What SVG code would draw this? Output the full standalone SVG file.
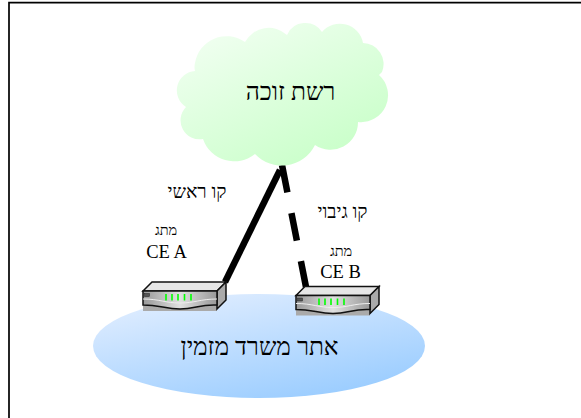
<svg xmlns="http://www.w3.org/2000/svg" width="581" height="418" viewBox="0 0 581 418">
<style>
text{font-family:"Liberation Serif","Noto Sans",serif;fill:#000;text-anchor:middle}
.t24{font-size:24.500px}.t19{font-size:19px}.t18{font-size:18.500px}.t14{font-size:14.500px}
.link{stroke:#000;stroke-width:6.500;fill:none}
</style>
<defs>
<linearGradient id="cg" x1="0.15" y1="0" x2="0.85" y2="1"><stop offset="0" stop-color="#f2fff2"/><stop offset="1" stop-color="#c6ffc6"/></linearGradient>
<linearGradient id="eg" x1="0.15" y1="0" x2="0.75" y2="1"><stop offset="0" stop-color="#e2eeff"/><stop offset="1" stop-color="#99ccff"/></linearGradient>
<linearGradient id="fr" x1="0" y1="0" x2="1" y2="0"><stop offset="0" stop-color="#999"/><stop offset="0.5" stop-color="#e0e0e0"/><stop offset="1" stop-color="#999"/></linearGradient>
<g id="router">
<rect x="143" y="305" width="74" height="6" fill="#aaa"/>
<polygon points="143,291 152,282 226,282 217,291" fill="#e6e6e6" stroke="#111" stroke-width="1.500"/>
<polygon points="217,291 226,282 226,300 217,309" fill="#aaa" stroke="#111" stroke-width="1.500"/>
<path d="M143,291H217V305C200,304 195,309 180,309C165,309 160,305 143,305Z" fill="url(#fr)" stroke="#111" stroke-width="1.500"/>
<path d="M143,299C160,299 165,303 180,303C195,303 200,299 217,299" fill="none" stroke="#eee" stroke-width="1"/>
<rect x="144.500" y="293.500" width="5" height="3" fill="#555" stroke="#222" stroke-width="0.500"/>
<path d="M166,294v6.500M172,294v6.500M178,294v6.500M184.500,294v6.500M191,294v6.500" stroke="#00ff00" stroke-width="1.600" fill="none"/>
</g>
</defs>
<path id="frame" d="M9,418V2.700H581" fill="none" stroke="#000" stroke-width="1.700"/>
<g id="site"><ellipse cx="259" cy="346" rx="166" ry="52" fill="url(#eg)"/><text class="t24" x="259.500" y="355">אתר משרד מזמין</text></g>
<g id="connectors">
<path class="link" d="M280,170L225,282"/>
<path class="link" stroke-dasharray="28 21" d="M282,165L306,287"/>
</g>
<g id="cloud"><path d="M195,63A32,32 0 0 1 245,42A27,27 0 0 1 287,35A20,20 0 0 1 322,32A23.500,23.500 0 0 1 363,43A21,21 0 0 1 382,72Q380,74 379,75A27,27 0 0 1 358,122A27.500,27.500 0 0 1 315,145A37,37 0 0 1 255,154A33,33 0 0 1 203,139A19,19 0 0 1 186,107A19.500,19.500 0 0 1 195,71Q194,67 195,63Z" fill="url(#cg)"/><text class="t24" x="290.500" y="100">רשת זוכה</text></g>
<g id="ce-a"><use href="#router"/><text class="t14" x="166" y="235">מתג</text><text class="t18" x="166.500" y="258">CE A</text></g>
<g id="ce-b"><use href="#router" x="153" y="4.500"/><text class="t14" x="341" y="256">מתג</text><text class="t18" x="340.500" y="278">CE B</text></g>
<g id="labels"><text class="t19" x="197" y="198">קו ראשי</text><text class="t19" x="342.500" y="218">קו גיבוי</text></g>
</svg>
